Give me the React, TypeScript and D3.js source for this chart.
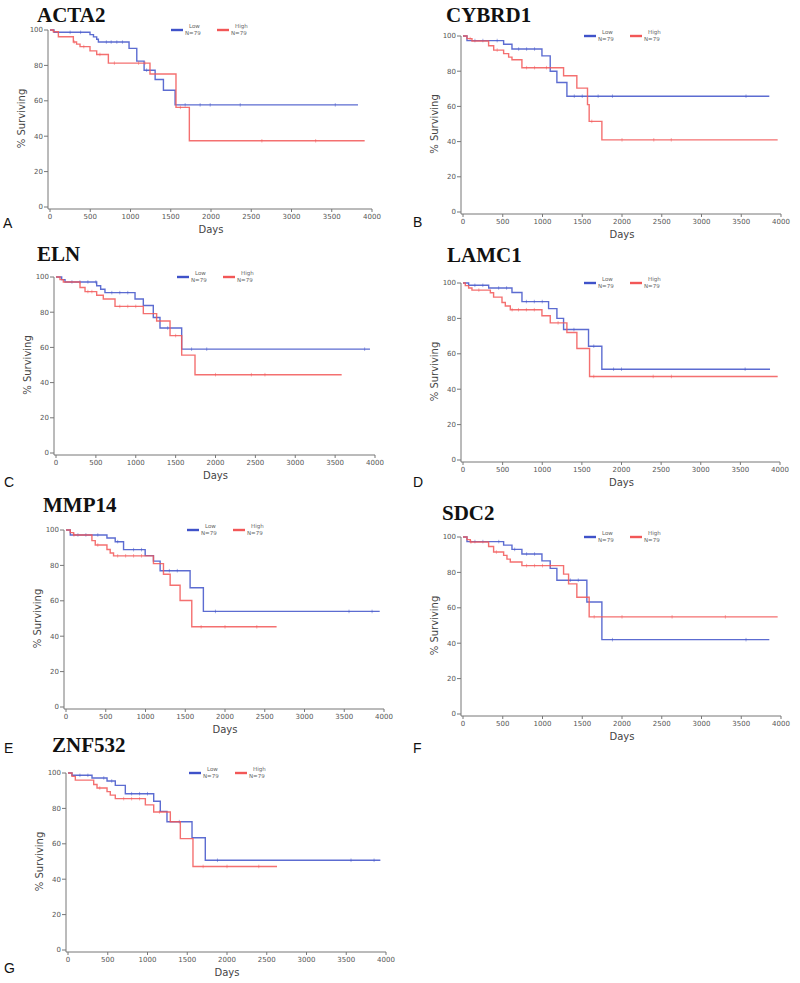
import React from "react";
import * as d3 from "d3";

type Pt = [number, number];

// ---- data: step points [day, % surviving]; last point = end of follow-up ----
const genes = ["ACTA2", "CYBRD1", "ELN", "LAMC1", "MMP14", "SDC2", "ZNF532"];
const panelLetters = ["A", "B", "C", "D", "E", "F", "G"];
const xTicks = [0, 500, 1000, 1500, 2000, 2500, 3000, 3500, 4000];
const yTicks = [0, 20, 40, 60, 80, 100];
const legendLabels = ["Low", "High"];
const legendN = ["N=79", "N=79"];

const ACTA2_low: Pt[] = [[0,100],[50,98.7],[497,97.4],[540,96.1],[580,94.8],[601,93.2],[982,89.6],[1078,82.4],[1169,77.3],[1306,72.0],[1409,66.0],[1554,57.7],[3826,57.7]];
const ACTA2_high: Pt[] = [[0,100],[41,99],[104,96.2],[290,93.2],[330,92],[373,90.6],[497,88.2],[580,86.2],[725,81.3],[1242,75.1],[1565,56.3],[1731,37.4],[3909,37.4]];
const CYBRD1_low: Pt[] = [[0,100],[50,97.4],[511,95.3],[616,92.6],[993,88.7],[1097,80.0],[1181,73.6],[1307,65.8],[3853,65.8]];
const CYBRD1_high: Pt[] = [[0,100],[50,98.5],[113,97.2],[322,94.5],[386,92],[511,90],[574,88],[616,86.5],[741,82],[1265,77.4],[1432,70.4],[1566,61],[1587,51.5],[1747,41],[3958,41]];
const ELN_low: Pt[] = [[0,100],[71,98.5],[113,97.2],[510,95],[560,93],[614,91.1],[991,87.5],[1095,83.8],[1220,77],[1304,71],[1576,59],[3937,59]];
const ELN_high: Pt[] = [[0,100],[50,98.5],[92,97.2],[301,94],[364,91.7],[510,89.6],[593,87.5],[740,83.3],[1095,79.2],[1262,75],[1430,66.7],[1576,55.6],[1743,44.5],[3582,44.5]];
const LAMC1_low: Pt[] = [[0,100],[71,98.7],[324,97.2],[618,94.6],[744,89.5],[1080,85.5],[1185,80],[1269,73.7],[1584,64.3],[1752,51.3],[3874,51.3]];
const LAMC1_high: Pt[] = [[0,100],[29,98.5],[71,97.2],[113,96],[345,94.5],[386,92],[492,89],[534,87],[597,84.9],[996,81.5],[1101,77.5],[1311,72],[1437,63],[1597,47.2],[3971,47.2]];
const MMP14_low: Pt[] = [[0,100],[54,97.2],[515,95.5],[619,93.4],[724,88.9],[996,85.5],[1100,82.4],[1184,77],[1561,67.4],[1728,54],[3946,54]];
const MMP14_high: Pt[] = [[0,100],[54,98.5],[96,97.2],[326,94],[368,91.5],[515,89],[556,87],[598,85.4],[1100,81],[1226,75],[1310,68.8],[1435,60.2],[1582,45.3],[2649,45.3]];
const SDC2_low: Pt[] = [[0,100],[50,97.4],[511,95.4],[616,93],[741,90.4],[993,86.5],[1097,82.3],[1181,75.6],[1558,63.3],[1747,42],[3853,42]];
const SDC2_high: Pt[] = [[0,100],[50,98.5],[92,97.2],[322,94.6],[385,91.5],[511,89.6],[553,87.5],[595,85.9],[741,83.8],[1265,79],[1328,73.5],[1432,66],[1587,54.9],[3958,54.9]];
const ZNF532_low: Pt[] = [[0,100],[50,98.7],[302,97.2],[491,95.5],[595,93],[721,88.3],[1078,84],[1161,78.3],[1245,72.5],[1560,63.4],[1727,50.7],[3929,50.7]];
const ZNF532_high: Pt[] = [[0,100],[50,98.1],[92,96],[323,93.5],[365,91.5],[491,89.5],[532,87.5],[595,85.5],[973,82],[1078,78],[1287,72.5],[1413,62.9],[1572,47.2],[2629,47.2]];

// censored observation days
const ACTA2_lowCens = [250, 380, 700, 760, 830, 900, 1200, 1679, 1865, 1990, 2363, 3544];
const ACTA2_highCens = [300, 420, 620, 800, 1100, 1180, 1620, 2632, 3300];
const CYBRD1_lowCens = [150, 250, 430, 700, 800, 900, 1400, 1500, 1700, 1880, 3560];
const CYBRD1_highCens = [90, 430, 800, 900, 1050, 1620, 2000, 2400, 2620];
const ELN_lowCens = [200, 300, 400, 500, 700, 800, 900, 1400, 1700, 1890, 3870];
const ELN_highCens = [400, 450, 800, 900, 1000, 1500, 2000, 2450, 2620];
const LAMC1_lowCens = [150, 250, 450, 550, 800, 900, 1000, 1400, 1650, 1900, 2000, 3560];
const LAMC1_highCens = [200, 620, 700, 800, 900, 1200, 1650, 2400, 2630];
const MMP14_lowCens = [150, 250, 400, 650, 850, 950, 1300, 1400, 1880, 3560, 3850];
const MMP14_highCens = [100, 400, 650, 750, 850, 950, 1700, 2000, 2400];
const SDC2_lowCens = [150, 250, 450, 650, 800, 900, 1350, 1450, 1880, 3560];
const SDC2_highCens = [100, 420, 800, 900, 1000, 1100, 1650, 2000, 2630, 3300];
const ZNF532_lowCens = [150, 250, 450, 550, 800, 900, 1000, 1400, 1880, 3560, 3850];
const ZNF532_highCens = [400, 700, 800, 900, 1150, 1700, 2000, 2400];

const lowSeries = [ACTA2_low, CYBRD1_low, ELN_low, LAMC1_low, MMP14_low, SDC2_low, ZNF532_low];
const highSeries = [ACTA2_high, CYBRD1_high, ELN_high, LAMC1_high, MMP14_high, SDC2_high, ZNF532_high];
const lowCens = [ACTA2_lowCens, CYBRD1_lowCens, ELN_lowCens, LAMC1_lowCens, MMP14_lowCens, SDC2_lowCens, ZNF532_lowCens];
const highCens = [ACTA2_highCens, CYBRD1_highCens, ELN_highCens, LAMC1_highCens, MMP14_highCens, SDC2_highCens, ZNF532_highCens];

// ---- layout ----
const layout = [
  { x0: 50, x1: 372, yTop: 30, yBot: 207, tx: 37, ty: 22, lx: 3, ly: 228 },
  { x0: 463, x1: 781, yTop: 36, yBot: 212, tx: 446, ty: 22, lx: 413, ly: 227 },
  { x0: 56, x1: 375, yTop: 277, yBot: 453, tx: 37, ty: 261, lx: 4, ly: 487 },
  { x0: 463, x1: 780, yTop: 283, yBot: 460, tx: 447, ty: 262, lx: 413, ly: 487 },
  { x0: 66, x1: 384, yTop: 530, yBot: 707, tx: 43, ty: 512, lx: 4, ly: 753 },
  { x0: 463, x1: 781, yTop: 537, yBot: 714, tx: 442, ty: 520, lx: 413, ly: 753 },
  { x0: 68, x1: 386, yTop: 773, yBot: 950, tx: 52, ty: 752, lx: 4, ly: 973 },
];

const BLUE = "#3f52c9";
const RED = "#f25757";
const AXIS = "#777";
const TICKTXT = "#555";

function valueAt(series: Pt[], day: number) {
  let v = series[0][1];
  for (const [d, val] of series) {
    if (d <= day) v = val;
  }
  return v;
}

function Panel({ i }: { i: number }) {
  const L = layout[i];
  const x = d3.scaleLinear().domain([0, 4000]).range([L.x0, L.x1]);
  const y = d3.scaleLinear().domain([0, 100]).range([L.yBot, L.yTop]);
  const line = d3
    .line<Pt>()
    .x((d) => x(d[0]))
    .y((d) => y(d[1]))
    .curve(d3.curveStepAfter);
  const axX = L.x0 - 2;
  const axY = L.yBot + 2;
  const series = [
    { data: lowSeries[i], cens: lowCens[i], color: BLUE },
    { data: highSeries[i], cens: highCens[i], color: RED },
  ];
  const legX = L.x0 + 121;
  return (
    <g>
      <text x={L.tx} y={L.ty} fontFamily="Liberation Serif" fontWeight="bold" fontSize={21} fill="#111">
        {genes[i]}
      </text>
      <text x={L.lx} y={L.ly} fontFamily="Liberation Sans" fontSize={14} fill="#111">
        {panelLetters[i]}
      </text>
      <line x1={axX} x2={axX} y1={L.yTop} y2={axY} stroke={AXIS} strokeWidth={1} />
      <line x1={axX} x2={L.x1} y1={axY} y2={axY} stroke={AXIS} strokeWidth={1} />
      {yTicks.map((t) => (
        <g key={"y" + t}>
          <line x1={axX - 4} x2={axX} y1={y(t)} y2={y(t)} stroke={AXIS} />
          <text x={axX - 5} y={y(t)} dy="0.35em" textAnchor="end" fontFamily="DejaVu Sans" fontSize={7} fill={TICKTXT}>
            {t}
          </text>
        </g>
      ))}
      {xTicks.map((t) => (
        <g key={"x" + t}>
          <line x1={x(t)} x2={x(t)} y1={axY} y2={axY + 3} stroke={AXIS} />
          <text x={x(t)} y={axY + 10} textAnchor="middle" fontFamily="DejaVu Sans" fontSize={7} fill={TICKTXT}>
            {t}
          </text>
        </g>
      ))}
      <text x={(L.x0 + L.x1) / 2} y={L.yBot + 26} textAnchor="middle" fontFamily="DejaVu Sans" fontSize={10} fill="#444">
        Days
      </text>
      <text
        transform={`translate(${axX - 23},${(L.yTop + L.yBot) / 2}) rotate(-90)`}
        textAnchor="middle"
        fontFamily="DejaVu Sans"
        fontSize={10}
        fill="#444"
      >
        % Surviving
      </text>
      {series.map((s, k) => (
        <g key={k}>
          <path d={line(s.data) || ""} fill="none" stroke={s.color} strokeWidth={1.4} strokeOpacity={0.85} />
          {s.cens.map((c, j) => {
            const v = valueAt(s.data, c);
            return (
              <line key={j} x1={x(c)} x2={x(c)} y1={y(v) - 1.8} y2={y(v) + 1.8} stroke={s.color} strokeWidth={0.8} strokeOpacity={0.6} />
            );
          })}
        </g>
      ))}
      {legendLabels.map((lab, k) => {
        const lx = legX + k * 46;
        const c = k === 0 ? BLUE : RED;
        return (
          <g key={lab}>
            <line x1={lx} x2={lx + 12} y1={L.yTop} y2={L.yTop} stroke={c} strokeWidth={2.4} />
            <text x={lx + 18} y={L.yTop - 2} fontFamily="DejaVu Sans" fontSize={5.5} fill="#666">
              {lab}
            </text>
            <text x={lx + 14} y={L.yTop + 5} fontFamily="DejaVu Sans" fontSize={5.5} fill="#666">
              {legendN[k]}
            </text>
          </g>
        );
      })}
    </g>
  );
}

export default function App() {
  return (
    <svg
      width={800}
      height={983}
      style={{ position: "absolute", left: 0, top: 0, background: "#fff" }}
      xmlns="http://www.w3.org/2000/svg"
    >
      <rect x={0} y={0} width={800} height={983} fill="#fff" />
      {genes.map((g, i) => (
        <Panel key={g} i={i} />
      ))}
    </svg>
  );
}
